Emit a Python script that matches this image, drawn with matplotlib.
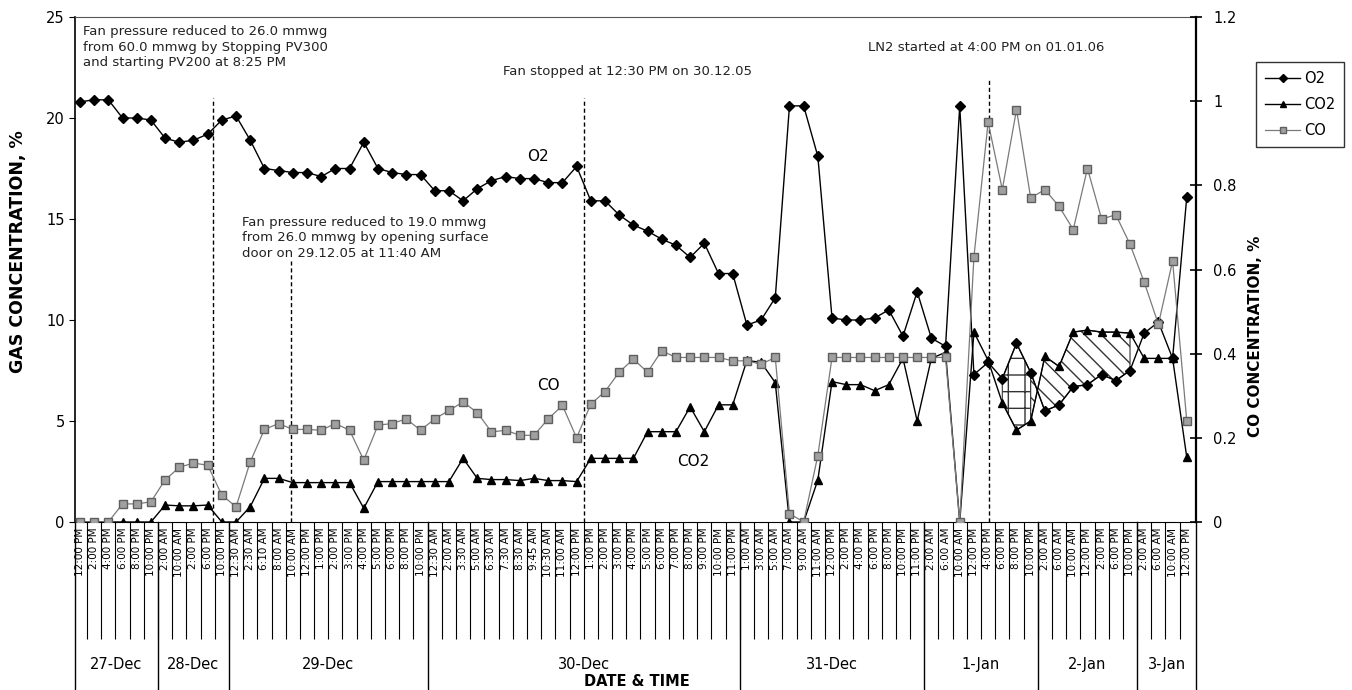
import numpy as np
import matplotlib
matplotlib.use("Agg")
import matplotlib.pyplot as plt
from matplotlib.lines import Line2D

# --- data ----------------------------------------------------------------
days = ["27-Dec", "28-Dec", "29-Dec", "30-Dec", "31-Dec", "1-Jan", "2-Jan", "3-Jan"]
day_sizes = [6, 5, 14, 22, 13, 8, 7, 4]

times = [
    # 27-Dec
    "12:00 PM", "2:00 PM", "4:00 PM", "6:00 PM", "8:00 PM", "10:00 PM",
    # 28-Dec
    "2:00 AM", "10:00 AM", "2:00 PM", "6:00 PM", "10:00 PM",
    # 29-Dec
    "12:30 AM", "2:30 AM", "6:10 AM", "8:00 AM", "10:00 AM", "12:00 PM", "1:00 PM",
    "2:00 PM", "3:00 PM", "4:00 PM", "5:00 PM", "6:00 PM", "8:00 PM", "10:00 PM",
    # 30-Dec
    "12:30 AM", "2:00 AM", "3:30 AM", "5:00 AM", "6:30 AM", "7:30 AM", "8:30 AM",
    "9:45 AM", "10:30 AM", "11:00 AM", "12:00 PM", "1:00 PM", "2:00 PM", "3:00 PM",
    "4:00 PM", "5:00 PM", "6:00 PM", "7:00 PM", "8:00 PM", "9:00 PM", "10:00 PM",
    "11:00 PM",
    # 31-Dec
    "1:00 AM", "3:00 AM", "5:00 AM", "7:00 AM", "9:00 AM", "11:00 AM", "12:00 PM",
    "2:00 PM", "4:00 PM", "6:00 PM", "8:00 PM", "10:00 PM", "11:00 PM",
    # 1-Jan
    "2:00 AM", "6:00 AM", "10:00 AM", "12:00 PM", "4:00 PM", "6:00 PM", "8:00 PM",
    "10:00 PM",
    # 2-Jan
    "2:00 AM", "6:00 AM", "10:00 AM", "12:00 PM", "2:00 PM", "6:00 PM", "10:00 PM",
    # 3-Jan
    "2:00 AM", "6:00 AM", "10:00 AM", "12:00 PM",
]

o2 = [20.8, 20.9, 20.9, 20.0, 20.0, 19.9, 19.0, 18.8, 18.9, 19.2,
      19.9, 20.1, 18.9, 17.5, 17.4, 17.3, 17.3, 17.1, 17.5, 17.5,
      18.8, 17.5, 17.3, 17.2, 17.2, 16.4, 16.4, 15.9, 16.5, 16.9,
      17.1, 17.0, 17.0, 16.8, 16.8, 17.6, 15.9, 15.9, 15.2, 14.7,
      14.4, 14.0, 13.7, 13.1, 13.8, 12.3, 12.3, 9.75, 10.0, 11.1,
      20.6, 20.6, 18.1, 10.1, 10.0, 10.0, 10.1, 10.5, 9.2, 11.4,
      9.1, 8.7, 20.6, 7.3, 7.9, 7.1, 8.85, 7.4, 5.5, 5.8,
      6.7, 6.8, 7.3, 7.0, 7.5, 9.35, 9.9, 8.1, 16.1]

co2 = [0, 0, 0, 0, 0, 0, 0.84, 0.8, 0.8, 0.84,
       0, 0, 0.76, 2.16, 2.16, 1.95, 1.95, 1.95, 1.95, 1.95,
       0.68, 2.0, 2.0, 2.0, 2.0, 2.0, 2.0, 3.15, 2.16, 2.1,
       2.1, 2.05, 2.16, 2.05, 2.05, 2.0, 3.15, 3.15, 3.15, 3.15,
       4.47, 4.47, 4.47, 5.7, 4.47, 5.8, 5.8, 8.0, 7.9, 6.9,
       0, 0, 2.08, 6.95, 6.8, 6.8, 6.5, 6.8, 8.1, 5.0,
       8.1, 8.4, 0, 9.4, 8.0, 5.9, 4.55, 5.0, 8.2, 7.7,
       9.4, 9.5, 9.4, 9.4, 9.35, 8.1, 8.1, 8.1, 3.2]

co = [0, 0, 0, 0.043, 0.043, 0.048, 0.10, 0.13, 0.14, 0.135,
      0.064, 0.036, 0.143, 0.22, 0.234, 0.22, 0.22, 0.218, 0.234, 0.218,
      0.147, 0.23, 0.234, 0.245, 0.218, 0.245, 0.265, 0.285, 0.26, 0.214,
      0.218, 0.206, 0.206, 0.245, 0.277, 0.20, 0.28, 0.31, 0.356, 0.387,
      0.356, 0.407, 0.391, 0.391, 0.391, 0.391, 0.383, 0.383, 0.375, 0.391,
      0.02, 0.0, 0.158, 0.391, 0.391, 0.391, 0.391, 0.391, 0.391, 0.391,
      0.391, 0.391, 0.0, 0.63, 0.95, 0.79, 0.98, 0.77, 0.79, 0.75,
      0.695, 0.84, 0.72, 0.73, 0.66, 0.57, 0.47, 0.62, 0.24]

# events: (category position, top of dashed line in %)
event_pos = [9.35, 14.85, 35.5, 64.05]
event_top = [21.0, 12.9, 21.0, 21.9]

x = np.arange(len(o2))

fig = plt.figure(figsize=(13.52, 6.9), dpi=100)
ax = fig.add_axes([75 / 1352, 1 - 522 / 690, 1121 / 1352, 505 / 690])
ax2 = ax.twinx()

# hatched regions between O2 and CO2 on 1-Jan / 2-Jan
o2a, co2a = np.array(o2), np.array(co2)
ax.fill_between(x[65:68], o2a[65:68], co2a[65:68], facecolor="white",
                edgecolor="#333333", hatch="+", linewidth=0.8, zorder=1)
ax.fill_between(x[67:75], o2a[67:75], co2a[67:75], facecolor="white",
                edgecolor="#333333", hatch="\\\\", linewidth=0.8, zorder=1)

ax.plot(x, o2, color="black", lw=1.0, marker="D", ms=5, mfc="black", mec="black", zorder=3)
ax.plot(x, co2, color="black", lw=1.0, marker="^", ms=6, mfc="black", mec="black", zorder=3)
ax2.plot(x, co, color="#7a7a7a", lw=0.9, marker="s", ms=6, mfc="#a0a0a0", mec="#5f5f5f", zorder=3)

ax.vlines(event_pos, 0, event_top, colors="black", linestyles=(0, (3, 2)), lw=1.0)

ax.set_xlim(-0.35, 78.65)
ax.set_ylim(0, 25)
ax2.set_ylim(0, 1.2)

# y axes
ax.set_yticks([0, 5, 10, 15, 20, 25])
ax.tick_params(axis="y", direction="out", length=4, labelsize=10.5)
ax2.set_yticks([0, 0.2, 0.4, 0.6, 0.8, 1.0, 1.2])
ax2.set_yticklabels(["0", "0.2", "0.4", "0.6", "0.8", "1", "1.2"])
ax2.tick_params(axis="y", direction="inout", length=9, width=1.2, labelsize=10.5, pad=8)

ax.spines["right"].set_visible(False)
ax2.spines["left"].set_visible(False)
ax2.spines["bottom"].set_visible(False)
ax2.spines["top"].set_visible(False)
ax.spines["top"].set_linestyle((0, (2, 1)))
ax.spines["top"].set_color("#555555")
ax.spines["left"].set_linewidth(1.2)
ax2.spines["right"].set_linewidth(1.6)

# x axis: category boundaries as long ticks, time labels between them
bounds = np.arange(0.5, len(o2) - 1, 1.0)
ax.set_xticks(bounds)
ax.set_xticklabels([])
ax.tick_params(axis="x", which="major", direction="out", length=84, width=0.8)
ax.set_xticks(x, minor=True)
ax.set_xticklabels(times, minor=True, rotation=90, fontsize=7.5)
ax.tick_params(axis="x", which="minor", length=0, pad=4)

# day separators and day names
trans = ax.get_xaxis_transform()
edges = np.concatenate([[-0.35], np.cumsum(day_sizes) - 0.5])
edges[-1] = 78.65
for e in edges:
    ax.plot([e, e], [0, -0.33], transform=trans, color="black", lw=1.0, clip_on=False)
for d, a, b in zip(days, edges[:-1], edges[1:]):
    ax.text((a + b) / 2, -0.283, d, transform=trans, ha="center", va="center", fontsize=10.5)

fig.text(637 / 1352, 1 - 681 / 690, "DATE & TIME", ha="center", va="center",
         fontsize=10.5, fontweight="bold")
fig.text(18 / 1352, 1 - 252 / 690, "GAS CONCENTRATION, %", rotation=90,
         ha="center", va="center", fontsize=12.5, fontweight="bold")
fig.text(1256 / 1352, 1 - 336 / 690, "CO CONCENTRATION, %", rotation=90,
         ha="center", va="center", fontsize=11, fontweight="bold")

# annotations
note_kw = dict(fontsize=9.5, color="#222222", va="top", ha="left", linespacing=1.25)
ax.text(0.2, 24.6, "Fan pressure reduced to 26.0 mmwg\nfrom 60.0 mmwg by Stopping PV300\n"
        "and starting PV200 at 8:25 PM", **note_kw)
ax.text(11.4, 15.15, "Fan pressure reduced to 19.0 mmwg\nfrom 26.0 mmwg by opening surface\n"
        "door on 29.12.05 at 11:40 AM", **note_kw)
ax.text(29.8, 22.6, "Fan stopped at 12:30 PM on 30.12.05", **note_kw)
ax.text(55.5, 23.8, "LN2 started at 4:00 PM on 01.01.06", **note_kw)
ax.text(32.3, 18.1, "O2", fontsize=11, ha="center", va="center")
ax.text(33.0, 6.75, "CO", fontsize=11, ha="center", va="center")
ax.text(43.2, 3.0, "CO2", fontsize=11, ha="center", va="center")

handles = [
    Line2D([], [], color="black", lw=1.0, marker="D", ms=4, mfc="black"),
    Line2D([], [], color="black", lw=1.0, marker="^", ms=5, mfc="black"),
    Line2D([], [], color="#7a7a7a", lw=0.9, marker="s", ms=5, mfc="#a0a0a0", mec="#5f5f5f"),
]
leg = fig.legend(handles, ["O2", "CO2", "CO"], loc="upper left",
                 bbox_to_anchor=(1249 / 1352, 1 - 55 / 690), frameon=True,
                 fancybox=False, edgecolor="black", fontsize=10.5, handlelength=2.4,
                 borderpad=0.6, labelspacing=0.75, handletextpad=0.3)
leg.get_frame().set_linewidth(1.0)

fig.savefig("out.png", dpi=100)
